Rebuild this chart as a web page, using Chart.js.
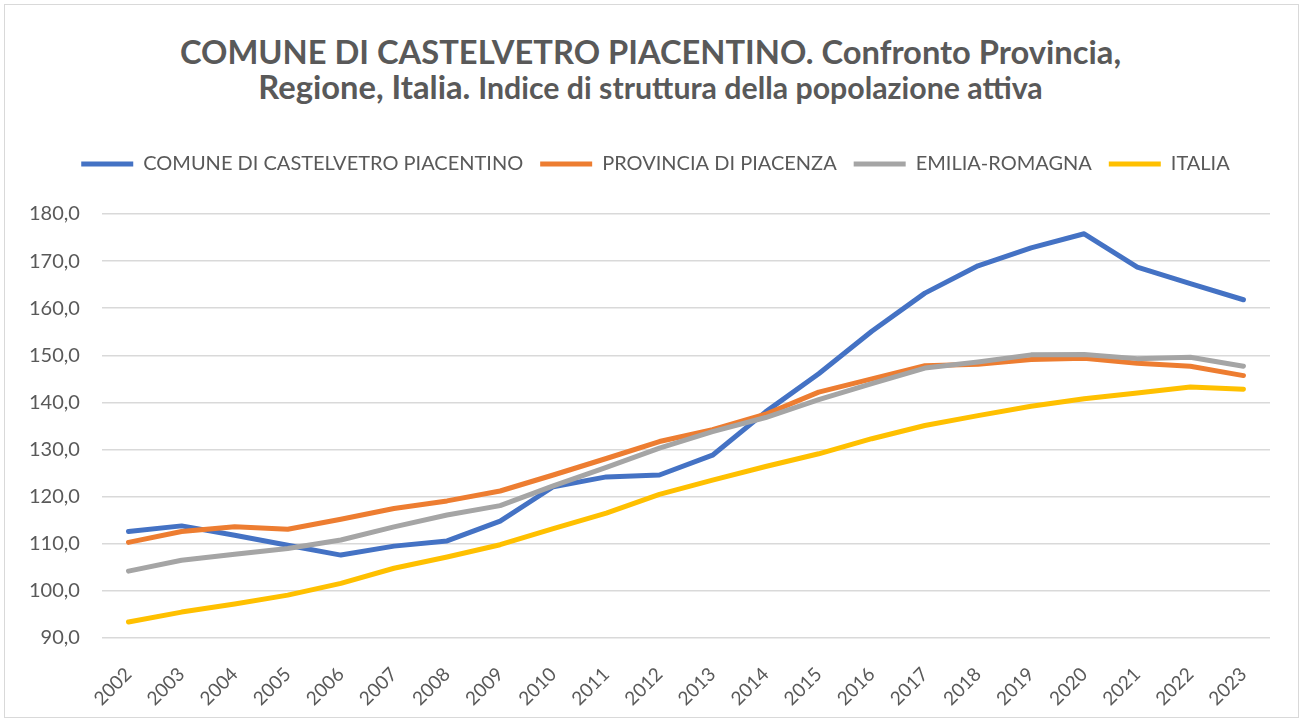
<!DOCTYPE html>
<html>
<head>
<meta charset="utf-8">
<script src="https://cdn.jsdelivr.net/npm/chart.js@4.4.1/dist/chart.umd.min.js"></script>
<style>
  html, body { margin: 0; padding: 0; background: #fff; }
  #frame { position: absolute; left: 4px; top: 4px; width: 1295px; height: 714px; border: 1px solid #d9d9d9; box-sizing: border-box; }
  .title { position: absolute; left: 0; width: 1301px; text-align: center; font-family: Lato, sans-serif; font-weight: bold; color: #595959; font-size: 32.7px; line-height: 35px; white-space: nowrap; }
  #t1 { top: 34px; }
  #t2 { top: 69px; }
  .title .sub { font-size: 30.3px; }
  #wrap { position: absolute; left: 0; top: 0; width: 1301px; height: 722px; }
</style>
</head>
<body>
<div id="frame"></div>
<div class="title" id="t1">COMUNE DI CASTELVETRO PIACENTINO. Confronto Provincia,</div>
<div class="title" id="t2">Regione, Italia. <span class="sub">Indice di struttura della popolazione attiva</span></div>
<div id="wrap"><canvas id="chart"></canvas></div>
<script>
// ---- dati ----
const years = ["2002", "2003", "2004", "2005", "2006", "2007", "2008", "2009", "2010", "2011", "2012",
  "2013", "2014", "2015", "2016", "2017", "2018", "2019", "2020", "2021", "2022", "2023"];

const comune    = [112.6, 113.8, 111.8, 109.7, 107.6, 109.5, 110.6, 114.8, 122.1, 124.2, 124.6,
  128.8, 138.0, 146.1, 155.1, 163.2, 169.0, 172.8, 175.8, 168.7, 165.2, 161.8];
const provincia = [110.3, 112.6, 113.6, 113.1, 115.2, 117.5, 119.1, 121.2, 124.6, 128.1, 131.7,
  134.2, 137.5, 142.2, 145.0, 147.8, 148.1, 149.1, 149.4, 148.3, 147.7, 145.7];
const emilia    = [104.2, 106.5, 107.8, 109.0, 110.8, 113.6, 116.1, 118.1, 122.3, 126.2, 130.3,
  133.8, 136.8, 140.6, 144.0, 147.3, 148.6, 150.1, 150.2, 149.3, 149.6, 147.7];
const italia    = [93.4, 95.5, 97.2, 99.1, 101.6, 104.8, 107.2, 109.8, 113.2, 116.5, 120.5,
  123.5, 126.4, 129.1, 132.3, 135.1, 137.2, 139.2, 140.8, 142.0, 143.3, 142.8];

const seriesNames = ["COMUNE DI CASTELVETRO PIACENTINO", "PROVINCIA DI PIACENZA", "EMILIA-ROMAGNA", "ITALIA"];
const seriesColors = ["#4472C4", "#ED7D31", "#A5A5A5", "#FFC000"];
const seriesData = [comune, provincia, emilia, italia];

const txt = "#595959";

// legenda più alta (spazio sopra il grafico) e spostata un po' a destra
const legendSpace = {
  id: "legendSpace",
  beforeInit(chart) {
    const fit = chart.legend.fit;
    chart.legend.fit = function () {
      fit.bind(chart.legend)();
      this.height += 30;
    };
  },
  afterLayout(chart) {
    chart.legend.left += 17;
    chart.legend.right += 17;
  }
};

// ---- grafico ----
const datasets = seriesData.map((d, i) => ({
  label: seriesNames[i],
  data: d,
  borderColor: seriesColors[i],
  backgroundColor: seriesColors[i],
  borderWidth: 5,
  pointRadius: 0,
  tension: 0,
  borderCapStyle: "round",
  borderJoinStyle: "round",
  order: seriesData.length - 1 - i   // come Excel: l'ultima serie sopra
}));

new Chart(document.getElementById("chart"), {
  type: "line",
  data: { labels: years, datasets: datasets },
  plugins: [legendSpace],
  options: {
    responsive: true,
    maintainAspectRatio: false,
    animation: false,
    layout: { padding: { top: 137, left: 7, right: 31, bottom: 4 } },
    plugins: {
      title: { display: false },
      tooltip: { enabled: false },
      legend: {
        position: "top",
        labels: {
          font: { family: "Lato", size: 20 },
          color: txt,
          boxWidth: 52,
          boxHeight: 5,
          padding: 17,
          sort: (a, b) => a.datasetIndex - b.datasetIndex,
          generateLabels: (chart) => {
            const items = Chart.defaults.plugins.legend.labels.generateLabels(chart);
            items.forEach(it => { it.lineWidth = 0; it.fillStyle = seriesColors[it.datasetIndex]; });
            return items;
          }
        }
      }
    },
    scales: {
      x: {
        offset: true,
        grid: { display: false },
        border: { display: false },
        afterFit: (scale) => { scale.height = 80; },
        ticks: {
          color: txt,
          font: { family: "Lato", size: 19 },
          minRotation: 45,
          maxRotation: 45,
          padding: 17
        }
      },
      y: {
        min: 90,
        max: 180,
        border: { display: false },
        grid: { color: "#d9d9d9", lineWidth: 1.5, drawTicks: false },
        ticks: {
          stepSize: 10,
          color: txt,
          font: { family: "Lato", size: 20 },
          padding: 22,
          callback: v => v.toFixed(1).replace(".", ",")
        }
      }
    }
  }
});
</script>
</body>
</html>
